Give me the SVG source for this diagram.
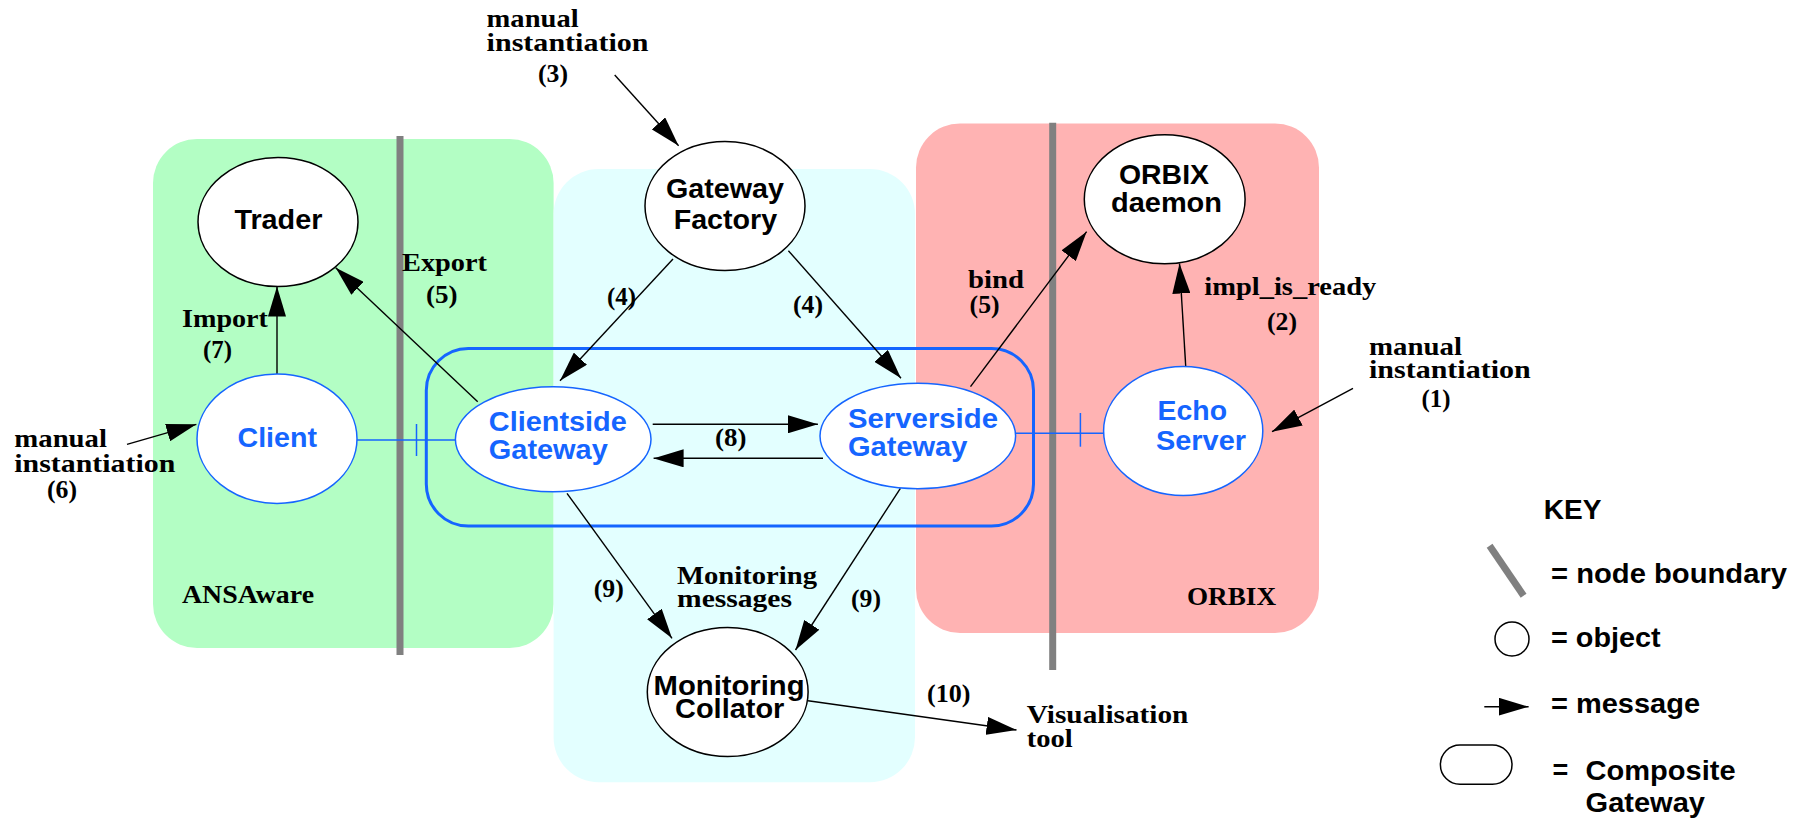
<svg xmlns="http://www.w3.org/2000/svg" width="1805" height="818" viewBox="0 0 1805 818">
<defs>
<style>
.bg{fill:#ffffff}
.gray{stroke:#808080;stroke-width:7;fill:none}
.obj{fill:#ffffff;stroke:#000000;stroke-width:1.5}
.bobj{fill:#ffffff;stroke:#1565ff;stroke-width:1.5}
.msg{stroke:#000000;stroke-width:1.4;fill:none;marker-end:url(#ah)}
.link{stroke:#1565ff;stroke-width:1.5;fill:none}
.nt{font-family:"Liberation Sans",Arial,sans-serif;font-weight:bold;font-size:28px;fill:#000000}
.bt{font-family:"Liberation Sans",Arial,sans-serif;font-weight:bold;font-size:28px;fill:#1565ff}
.lt{font-family:"Liberation Serif","Times New Roman",serif;font-weight:bold;font-size:25px;fill:#000000}
.kt{font-family:"Liberation Sans",Arial,sans-serif;font-weight:bold;font-size:27px;fill:#000000}
</style>
<marker id="ah" markerUnits="userSpaceOnUse" markerWidth="30" markerHeight="18" refX="30" refY="9" orient="auto" viewBox="0 0 30 18">
<path d="M0,0 L30,9 L0,18 z" fill="#000000"/>
</marker>
</defs>
<rect class="bg" x="0" y="0" width="1805" height="818"/>

<g id="panels">
<rect x="153" y="139" width="400.6" height="509" rx="44" ry="44" fill="#b3fec4"/>
<rect x="553.6" y="169" width="361.4" height="613.3" rx="45" ry="45" fill="#e3ffff"/>
<rect x="916" y="123.5" width="403" height="509.5" rx="44" ry="44" fill="#ffb3b3"/>
<line class="gray" x1="400" y1="136" x2="400" y2="655"/>
<line class="gray" x1="1052.7" y1="122.7" x2="1052.7" y2="670"/>
<text class="lt" x="182" y="602.7" textLength="132" lengthAdjust="spacingAndGlyphs">ANSAware</text>
<text class="lt" x="1187" y="605" textLength="89" lengthAdjust="spacingAndGlyphs">ORBIX</text>
</g>

<g id="composite-gateway">
<rect x="426.3" y="348.5" width="607.2" height="177.5" rx="42" ry="42" fill="none" stroke="#1565ff" stroke-width="3"/>
</g>

<g id="connectors">
<line class="msg" x1="614.7" y1="75" x2="678.6" y2="145.7"/>
<line class="msg" x1="277" y1="378" x2="277" y2="286.5"/>
<line class="msg" x1="477.7" y1="401.7" x2="335.7" y2="267.7"/>
<line class="msg" x1="673" y1="259" x2="560" y2="380.7"/>
<line class="msg" x1="788.4" y1="250.7" x2="901" y2="378.3"/>
<line class="msg" x1="970.5" y1="386.7" x2="1086.6" y2="231.7"/>
<line class="msg" x1="1185.7" y1="366" x2="1179.5" y2="263.5"/>
<line class="msg" x1="1353" y1="388.3" x2="1272" y2="431.7"/>
<line class="msg" x1="127" y1="444.3" x2="196.4" y2="424.3"/>
<line class="msg" x1="652.7" y1="424.3" x2="817.9" y2="424.3"/>
<line class="msg" x1="823" y1="458.3" x2="653.6" y2="458.3"/>
<line class="msg" x1="567" y1="493.3" x2="672" y2="638.3"/>
<line class="msg" x1="900.4" y1="488.3" x2="795.5" y2="650"/>
<line class="msg" x1="808" y1="700.7" x2="1016.5" y2="730"/>
<line class="link" x1="357" y1="440" x2="455.4" y2="440"/>
<line class="link" x1="416.5" y1="424" x2="416.5" y2="456"/>
<line class="link" x1="1015.6" y1="433.3" x2="1103.6" y2="433.3"/>
<line class="link" x1="1080.4" y1="413" x2="1080.4" y2="446.7"/>
</g>

<g id="labels">
<text class="lt" x="486.6" y="26.7" textLength="92" lengthAdjust="spacingAndGlyphs">manual</text>
<text class="lt" x="486.6" y="50.7" textLength="162" lengthAdjust="spacingAndGlyphs">instantiation</text>
<text class="lt" x="538" y="81.7" textLength="30" lengthAdjust="spacingAndGlyphs">(3)</text>
<text class="lt" x="402" y="270.7" textLength="85" lengthAdjust="spacingAndGlyphs">Export</text>
<text class="lt" x="426" y="303" textLength="31.6" lengthAdjust="spacingAndGlyphs">(5)</text>
<text class="lt" x="182" y="327" textLength="86" lengthAdjust="spacingAndGlyphs">Import</text>
<text class="lt" x="203" y="358" textLength="29" lengthAdjust="spacingAndGlyphs">(7)</text>
<text class="lt" x="607" y="305" textLength="29" lengthAdjust="spacingAndGlyphs">(4)</text>
<text class="lt" x="793" y="313" textLength="30" lengthAdjust="spacingAndGlyphs">(4)</text>
<text class="lt" x="968" y="288.3" textLength="56" lengthAdjust="spacingAndGlyphs">bind</text>
<text class="lt" x="969.6" y="313" textLength="30" lengthAdjust="spacingAndGlyphs">(5)</text>
<text class="lt" x="1204.3" y="295" textLength="172" lengthAdjust="spacingAndGlyphs">impl_is_ready</text>
<text class="lt" x="1267" y="330" textLength="30" lengthAdjust="spacingAndGlyphs">(2)</text>
<text class="lt" x="1369" y="355" textLength="93" lengthAdjust="spacingAndGlyphs">manual</text>
<text class="lt" x="1369" y="378.3" textLength="161.7" lengthAdjust="spacingAndGlyphs">instantiation</text>
<text class="lt" x="1421.5" y="406.7" textLength="29" lengthAdjust="spacingAndGlyphs">(1)</text>
<text class="lt" x="14.3" y="446.7" textLength="92.7" lengthAdjust="spacingAndGlyphs">manual</text>
<text class="lt" x="14.3" y="471.7" textLength="161" lengthAdjust="spacingAndGlyphs">instantiation</text>
<text class="lt" x="47" y="498" textLength="30" lengthAdjust="spacingAndGlyphs">(6)</text>
<text class="lt" x="715" y="446" textLength="31.4" lengthAdjust="spacingAndGlyphs">(8)</text>
<text class="lt" x="593.8" y="596.7" textLength="30" lengthAdjust="spacingAndGlyphs">(9)</text>
<text class="lt" x="677" y="584" textLength="140" lengthAdjust="spacingAndGlyphs">Monitoring</text>
<text class="lt" x="677" y="606.7" textLength="115" lengthAdjust="spacingAndGlyphs">messages</text>
<text class="lt" x="851" y="606.7" textLength="30" lengthAdjust="spacingAndGlyphs">(9)</text>
<text class="lt" x="927" y="701.7" textLength="43.5" lengthAdjust="spacingAndGlyphs">(10)</text>
<text class="lt" x="1026.8" y="723.3" textLength="161.6" lengthAdjust="spacingAndGlyphs">Visualisation</text>
<text class="lt" x="1026.8" y="746.7" textLength="46" lengthAdjust="spacingAndGlyphs">tool</text>
</g>

<g id="trader">
<ellipse class="obj" cx="278" cy="222" rx="80" ry="64.5"/>
<text class="nt" x="234.4" y="229" textLength="88" lengthAdjust="spacingAndGlyphs">Trader</text>
</g>
<g id="gateway-factory">
<ellipse class="obj" cx="725" cy="206" rx="80" ry="64.5"/>
<text class="nt" x="666" y="198" textLength="118" lengthAdjust="spacingAndGlyphs">Gateway</text>
<text class="nt" x="673.7" y="229" textLength="103.5" lengthAdjust="spacingAndGlyphs">Factory</text>
</g>
<g id="orbix-daemon">
<ellipse class="obj" cx="1164.7" cy="199.3" rx="80.4" ry="64.5"/>
<text class="nt" x="1119" y="184" textLength="90" lengthAdjust="spacingAndGlyphs">ORBIX</text>
<text class="nt" x="1111" y="211.5" textLength="111" lengthAdjust="spacingAndGlyphs">daemon</text>
</g>
<g id="client">
<ellipse class="bobj" cx="277" cy="438.7" rx="80" ry="64.7"/>
<text class="bt" x="237.5" y="447" textLength="79.5" lengthAdjust="spacingAndGlyphs">Client</text>
</g>
<g id="clientside-gateway">
<ellipse class="bobj" cx="553.2" cy="439.2" rx="97.8" ry="52.5"/>
<text class="bt" x="488.8" y="431" textLength="138" lengthAdjust="spacingAndGlyphs">Clientside</text>
<text class="bt" x="488.8" y="459" textLength="119" lengthAdjust="spacingAndGlyphs">Gateway</text>
</g>
<g id="serverside-gateway">
<ellipse class="bobj" cx="917.8" cy="436" rx="97.8" ry="52.7"/>
<text class="bt" x="848" y="428.3" textLength="150" lengthAdjust="spacingAndGlyphs">Serverside</text>
<text class="bt" x="848" y="456" textLength="119.4" lengthAdjust="spacingAndGlyphs">Gateway</text>
</g>
<g id="echo-server">
<ellipse class="bobj" cx="1183.2" cy="431" rx="79.6" ry="64.5"/>
<text class="bt" x="1157.5" y="420" textLength="69.5" lengthAdjust="spacingAndGlyphs">Echo</text>
<text class="bt" x="1156" y="450" textLength="90" lengthAdjust="spacingAndGlyphs">Server</text>
</g>
<g id="monitoring-collator">
<ellipse class="obj" cx="727.7" cy="692" rx="80.4" ry="64.5"/>
<text class="nt" x="653.6" y="695" textLength="151" lengthAdjust="spacingAndGlyphs" style="font-size:27px">Monitoring</text>
<text class="nt" x="675" y="718.3" textLength="109.4" lengthAdjust="spacingAndGlyphs" style="font-size:27px">Collator</text>
</g>

<g id="key">
<text class="kt" x="1543.8" y="519" textLength="57.7" lengthAdjust="spacingAndGlyphs">KEY</text>
<line class="gray" x1="1489.6" y1="545.7" x2="1523.6" y2="595.7"/>
<text class="kt" x="1551" y="582.7" textLength="236" lengthAdjust="spacingAndGlyphs">= node boundary</text>
<circle class="obj" cx="1512" cy="639" r="17"/>
<text class="kt" x="1551" y="647.3" textLength="109.6" lengthAdjust="spacingAndGlyphs">= object</text>
<line class="msg" x1="1484.3" y1="706.7" x2="1528.6" y2="706.7"/>
<text class="kt" x="1551" y="713.3" textLength="149" lengthAdjust="spacingAndGlyphs">= message</text>
<rect class="obj" x="1440.4" y="745" width="71.6" height="39.3" rx="19.6" ry="19.6"/>
<text class="kt" x="1552.6" y="779">=</text>
<text class="kt" x="1585.6" y="780" textLength="150" lengthAdjust="spacingAndGlyphs">Composite</text>
<text class="kt" x="1585.6" y="811.7" textLength="119.4" lengthAdjust="spacingAndGlyphs">Gateway</text>
</g>
</svg>
